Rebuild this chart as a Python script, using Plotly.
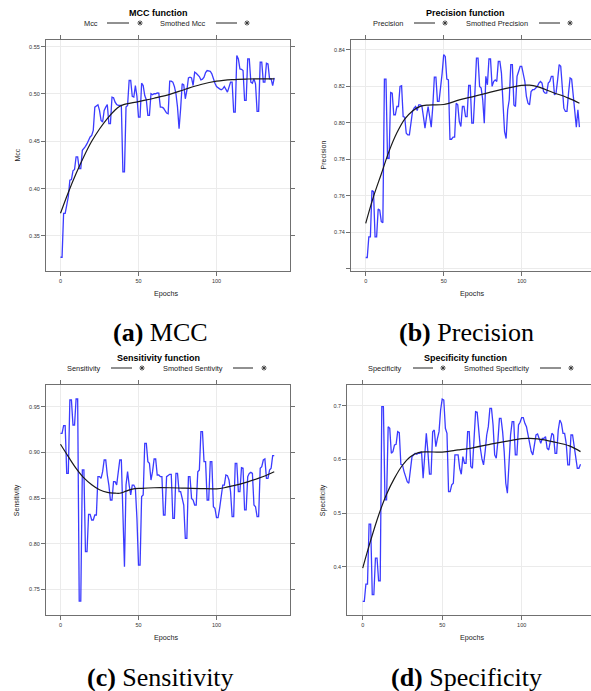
import plotly.graph_objects as go

W, H = 591, 691

epochs = list(range(138))

mcc = [0.3275, 0.3275, 0.3739, 0.3739, 0.3826, 0.3914, 0.4089, 0.4096, 0.4188, 0.4202,
       0.4335, 0.4335, 0.4212, 0.4212, 0.4405, 0.4423, 0.4447, 0.4475, 0.4518, 0.4546,
       0.4563, 0.4616, 0.4861, 0.4875, 0.4886, 0.4826, 0.4721, 0.4704, 0.4826, 0.4861,
       0.4889, 0.4686, 0.4686, 0.4967, 0.4960, 0.4914, 0.4889, 0.4879, 0.4879, 0.4879,
       0.4177, 0.4177, 0.4861, 0.4879, 0.5142, 0.5142, 0.4974, 0.4967, 0.5089, 0.4974,
       0.4756, 0.4756, 0.5114, 0.5089, 0.4984, 0.4939, 0.4774, 0.4774, 0.5002, 0.4991,
       0.5002, 0.5002, 0.5012, 0.5009, 0.4861, 0.4861, 0.4851, 0.4826, 0.4798, 0.4791,
       0.5135, 0.5135, 0.5125, 0.5079, 0.5002, 0.4861, 0.4633, 0.4844, 0.5107, 0.5096,
       0.4949, 0.5037, 0.5170, 0.5177, 0.5170, 0.5089, 0.5230, 0.5219, 0.5202, 0.5184,
       0.5149, 0.5156, 0.5177, 0.5226, 0.5247, 0.5247, 0.5240, 0.5212, 0.5149, 0.5114,
       0.5079, 0.5061, 0.5054, 0.5044, 0.5054, 0.5079, 0.5044, 0.5019, 0.5072, 0.5125,
       0.5125, 0.4809, 0.4809, 0.5405, 0.5370, 0.5265, 0.5261, 0.5247, 0.4932, 0.4932,
       0.5370, 0.5370, 0.5125, 0.5114, 0.5160, 0.5107, 0.4816, 0.4816, 0.5335, 0.5335,
       0.5125, 0.5125, 0.5325, 0.5318, 0.5160, 0.5160, 0.5089, 0.5170]

precision = [0.7263, 0.7263, 0.7376, 0.7376, 0.7629, 0.7623, 0.7376, 0.7376, 0.7528, 0.7522,
             0.7459, 0.7453, 0.8239, 0.8239, 0.7806, 0.7806, 0.8166, 0.8162, 0.8044, 0.8044,
             0.8089, 0.8089, 0.8199, 0.8203, 0.8034, 0.8031, 0.7943, 0.7934, 0.7934, 0.8016,
             0.8062, 0.8080, 0.8089, 0.8067, 0.8098, 0.8098, 0.8093, 0.8034, 0.7970, 0.8034,
             0.8089, 0.8034, 0.7976, 0.8089, 0.8250, 0.8250, 0.8117, 0.8117, 0.8190, 0.8272,
             0.8373, 0.8363, 0.8239, 0.8235, 0.7910, 0.7910, 0.7921, 0.7921, 0.8107, 0.8098,
             0.8007, 0.7980, 0.8089, 0.8089, 0.8034, 0.8034, 0.8204, 0.8204, 0.7998, 0.7998,
             0.8166, 0.8354, 0.8354, 0.8199, 0.8190, 0.8126, 0.7998, 0.8254, 0.8208, 0.8349,
             0.8349, 0.8199, 0.8226, 0.8235, 0.8226, 0.8336, 0.8336, 0.8272, 0.8107, 0.7952,
             0.7914, 0.8071, 0.8126, 0.8318, 0.8318, 0.8098, 0.8089, 0.8254, 0.8281, 0.8309,
             0.8309, 0.8272, 0.8226, 0.8144, 0.8107, 0.8098, 0.8171, 0.8181, 0.8181, 0.8190,
             0.8199, 0.8217, 0.8226, 0.8217, 0.8171, 0.8162, 0.8162, 0.8217, 0.8226, 0.8254,
             0.8254, 0.8153, 0.8162, 0.8235, 0.8318, 0.8309, 0.8199, 0.8080, 0.8062, 0.8062,
             0.8162, 0.8245, 0.8239, 0.8153, 0.8062, 0.7976, 0.8071, 0.7976]

sensitivity = [0.9208, 0.9208, 0.9292, 0.9292, 0.8770, 0.8770, 0.9573, 0.9573, 0.9299, 0.9299,
               0.9584, 0.9584, 0.7372, 0.7372, 0.8807, 0.8807, 0.7912, 0.7912, 0.8321, 0.8321,
               0.8259, 0.8259, 0.8314, 0.8314, 0.8734, 0.8734, 0.8715, 0.8788, 0.8916, 0.8916,
               0.8752, 0.8642, 0.8478, 0.8478, 0.8679, 0.8679, 0.8642, 0.8788, 0.8916, 0.8916,
               0.8277, 0.7748, 0.8642, 0.8788, 0.8642, 0.8533, 0.8642, 0.8642, 0.8606, 0.8277,
               0.7766, 0.7766, 0.8515, 0.8533, 0.9099, 0.9099, 0.8898, 0.8880, 0.8697, 0.8788,
               0.8927, 0.8927, 0.8752, 0.8752, 0.8734, 0.8734, 0.8314, 0.8314, 0.8734, 0.8752,
               0.8759, 0.8759, 0.8277, 0.8277, 0.8770, 0.8770, 0.8569, 0.8569, 0.8478, 0.8423,
               0.8058, 0.8058, 0.8734, 0.8734, 0.8496, 0.8478, 0.8423, 0.8423, 0.8788, 0.8807,
               0.9226, 0.9226, 0.8898, 0.8898, 0.8478, 0.8478, 0.8898, 0.8898, 0.8405, 0.8387,
               0.8285, 0.8285, 0.8387, 0.8496, 0.8642, 0.8642, 0.8752, 0.8745, 0.8697, 0.8569,
               0.8296, 0.8296, 0.8880, 0.8880, 0.8569, 0.8569, 0.8832, 0.8825, 0.8369, 0.8369,
               0.8734, 0.8770, 0.8781, 0.8770, 0.8423, 0.8405, 0.8296, 0.8296, 0.8825, 0.8843,
               0.8916, 0.8927, 0.8715, 0.8715, 0.8807, 0.8825, 0.8964, 0.8964]

specificity = [0.3355, 0.3355, 0.3677, 0.3677, 0.4793, 0.4793, 0.3479, 0.3479, 0.4161, 0.4161,
               0.3739, 0.3739, 0.6981, 0.6981, 0.5246, 0.5246, 0.6609, 0.6578, 0.6113, 0.6144,
               0.6268, 0.6281, 0.6516, 0.6498, 0.5909, 0.5896, 0.5772, 0.5679, 0.5586, 0.5555,
               0.5803, 0.6051, 0.6082, 0.6113, 0.6095, 0.6113, 0.6113, 0.6144, 0.5648, 0.6082,
               0.6485, 0.6144, 0.5723, 0.5723, 0.6516, 0.6547, 0.6237, 0.6392, 0.6516, 0.6919,
               0.7124, 0.7105, 0.6578, 0.6485, 0.5400, 0.5400, 0.5524, 0.5555, 0.6082, 0.6082,
               0.6082, 0.5834, 0.5723, 0.6051, 0.5927, 0.5927, 0.6516, 0.6516, 0.5865, 0.5834,
               0.6330, 0.6888, 0.6876, 0.6454, 0.6206, 0.6008, 0.5896, 0.6144, 0.6454, 0.6609,
               0.6950, 0.6950, 0.6640, 0.6082, 0.6020, 0.6330, 0.6764, 0.6764, 0.6516, 0.6144,
               0.5555, 0.5370, 0.6020, 0.6454, 0.6702, 0.6702, 0.6082, 0.6082, 0.6640, 0.6690,
               0.6777, 0.6777, 0.6671, 0.6609, 0.6454, 0.6268, 0.6144, 0.6082, 0.6299, 0.6454,
               0.6473, 0.6361, 0.6299, 0.6392, 0.6392, 0.6423, 0.6206, 0.6175, 0.6330, 0.6485,
               0.6454, 0.6113, 0.6113, 0.6547, 0.6733, 0.6671, 0.6485, 0.6485, 0.6299, 0.5896,
               0.5896, 0.6454, 0.6454, 0.6268, 0.6082, 0.5834, 0.5834, 0.5909]

smooth_mcc_x = [0, 5, 10, 15, 20, 25, 30, 35, 38, 40, 50, 60, 70, 80, 90, 100, 110, 120, 130, 137]
smooth_mcc = [0.374, 0.396, 0.416, 0.434, 0.450, 0.463, 0.474, 0.483, 0.487, 0.4885, 0.492,
              0.4955, 0.4995, 0.505, 0.510, 0.5135, 0.5152, 0.5158, 0.516, 0.516]

smooth_prec_x = [0, 5, 10, 15, 20, 25, 30, 35, 40, 50, 60, 70, 80, 90, 100, 105, 110, 120, 130, 137]
smooth_prec = [0.745, 0.7596, 0.772, 0.7845, 0.7945, 0.802, 0.8065, 0.809, 0.8097, 0.8100,
               0.8125, 0.8146, 0.8168, 0.8188, 0.8205, 0.8206, 0.8198, 0.8166, 0.8135, 0.8107]

smooth_sens_x = [0, 5, 10, 15, 20, 25, 30, 35, 38, 42, 46, 52, 60, 70, 80, 90, 100, 105, 110, 120, 130, 137]
smooth_sens = [0.9088, 0.8953, 0.8825, 0.872, 0.8645, 0.859, 0.8562, 0.8553, 0.8552, 0.8575,
               0.8598, 0.8606, 0.8612, 0.8612, 0.8608, 0.8603, 0.8601, 0.8612, 0.8632, 0.8677,
               0.8735, 0.8788]

smooth_spec_x = [0, 5, 10, 15, 20, 25, 30, 35, 40, 50, 60, 70, 80, 90, 100, 105, 110, 120, 130, 137]
smooth_spec = [0.3975, 0.449, 0.496, 0.535, 0.565, 0.589, 0.605, 0.6125, 0.614, 0.6135, 0.6175,
               0.622, 0.628, 0.6335, 0.6385, 0.639, 0.638, 0.6325, 0.625, 0.6144]

x_ticks = [0, 50, 100]

panels = [
    dict(name="Mcc", sname="Smothed Mcc", title="MCC function", ylab="Mcc",
         y=mcc, sx=smooth_mcc_x, sy=smooth_mcc, cap="(a)", capt="MCC",
         xd=[46, 290], yd=[40, 271], xr=[-9.29, 147.1], yr=[0.313, 0.557],
         yt=[0.35, 0.40, 0.45, 0.50, 0.55], ytt=["0.35", "0.40", "0.45", "0.50", "0.55"],
         right=True, cx=159, tcy=13, ly=23, ylx=17, xlaby=293, capy=332,
         leg=[(100, 107, 129, 140), (207, 216, 237, 247)]),
    dict(name="Precision", sname="Smothed Precision", title="Precision function", ylab="Precision",
         y=precision, sx=smooth_prec_x, sy=smooth_prec, cap="(b)", capt="Precision",
         xd=[351, 591], yd=[40, 271], xr=[-9.42, 144.4], yr=[0.7189, 0.8453],
         yt=[0.72, 0.74, 0.76, 0.78, 0.80, 0.82, 0.84], ytt=["", "0.74", "0.76", "0.78", "0.80", "0.82", "0.84"],
         right=False, cx=465, tcy=13, ly=23, ylx=323, xlaby=293, capy=332,
         leg=[(405, 414, 435, 445), (530, 539, 560, 570)]),
    dict(name="Sensitivity", sname="Smothed Sentivity", title="Sensitivity function", ylab="Sensitivity",
         y=sensitivity, sx=smooth_sens_x, sy=smooth_sens, cap="(c)", capt="Sensitivity",
         xd=[46, 290], yd=[385, 615.3], xr=[-9.29, 147.1], yr=[0.7216, 0.9737],
         yt=[0.75, 0.80, 0.85, 0.90, 0.95], ytt=["0.75", "0.80", "0.85", "0.90", "0.95"],
         right=True, cx=159, tcy=358, ly=368, ylx=17, xlaby=637, capy=677,
         leg=[(103, 111, 132, 142), (225, 233, 253, 264)]),
    dict(name="Specificity", sname="Smothed Specificity", title="Specificity function", ylab="Specificity",
         y=specificity, sx=smooth_spec_x, sy=smooth_spec, cap="(d)", capt="Specificity",
         xd=[347.3, 591], yd=[385, 615.3], xr=[-9.7, 143.6], yr=[0.3095, 0.7385],
         yt=[0.4, 0.5, 0.6, 0.7], ytt=["0.4", "0.5", "0.6", "0.7"],
         right=False, cx=465, tcy=358, ly=368, ylx=323, xlaby=637, capy=677,
         leg=[(404, 413, 433, 443), (531, 540, 561, 571)]),
]

def px(x):
    return x / W

def py(y):
    return 1 - y / H

SANS = "Liberation Sans, Arial, sans-serif"
fig = go.Figure()
layout = dict(width=W, height=H, margin=dict(l=0, r=0, t=0, b=0),
              paper_bgcolor="white", plot_bgcolor="white", showlegend=False)
annotations = []
shapes = []

def star(cx, cy, r=2.6):
    # lattice pch=8 style: "+" overlaid with "x"
    d = r * 0.72
    segs = [(-r, 0, r, 0), (0, -r, 0, r), (-d, -d, d, d), (-d, d, d, -d)]
    for x0, y0, x1, y1 in segs:
        shapes.append(dict(type="line", xref="paper", yref="paper",
                           x0=px(cx + x0), x1=px(cx + x1), y0=py(cy + y0), y1=py(cy + y1),
                           line=dict(color="#333", width=0.9)))

for i, p in enumerate(panels):
    k = "" if i == 0 else str(i + 1)
    xa, ya = "x" + k, "y" + k
    fig.add_trace(go.Scatter(x=epochs, y=p["y"], mode="lines", xaxis=xa, yaxis=ya,
                             line=dict(color="rgba(25,25,255,0.85)", width=1.3)))
    fig.add_trace(go.Scatter(x=p["sx"], y=p["sy"], mode="lines", xaxis=xa, yaxis=ya,
                             line=dict(color="#1a1a1a", width=1.2, shape="spline")))
    axcommon = dict(showline=True, linecolor="#707070", linewidth=1.2, ticks="outside",
                    ticklen=4, tickwidth=1, tickcolor="#707070", showgrid=True,
                    gridcolor="#ebebeb", gridwidth=1, zeroline=False,
                    tickfont=dict(family=SANS, size=5.5, color="#333"))
    layout["xaxis" + k] = dict(axcommon, domain=[px(p["xd"][0]), px(p["xd"][1])],
                               range=p["xr"], anchor=ya, mirror="allticks",
                               tickvals=x_ticks, ticktext=[str(v) for v in x_ticks])
    layout["yaxis" + k] = dict(axcommon, domain=[py(p["yd"][1]), py(p["yd"][0])],
                               range=p["yr"], anchor=xa,
                               mirror="allticks" if p["right"] else False,
                               tickvals=p["yt"], ticktext=p["ytt"])
    # title
    annotations.append(dict(x=px(p["cx"]), y=py(p["tcy"]), xref="paper", yref="paper",
                            text="<b>" + p["title"] + "</b>", showarrow=False,
                            font=dict(family=SANS, size=9, color="black"),
                            xanchor="center", yanchor="middle"))
    # legend key row
    for lbl, (tx, l0, l1, ax) in zip([p["name"], p["sname"]], p["leg"]):
        annotations.append(dict(x=px(tx), y=py(p["ly"]), xref="paper", yref="paper",
                                text=lbl, showarrow=False,
                                font=dict(family=SANS, size=7.4, color="#222"),
                                xanchor="right", yanchor="middle"))
        shapes.append(dict(type="line", xref="paper", yref="paper",
                           x0=px(l0), x1=px(l1), y0=py(p["ly"]), y1=py(p["ly"]),
                           line=dict(color="#222", width=1)))
        star(ax, p["ly"])
    # y label
    ymid = (p["yd"][0] + p["yd"][1]) / 2
    annotations.append(dict(x=px(p["ylx"]), y=py(ymid), xref="paper", yref="paper",
                            text=p["ylab"], showarrow=False, textangle=-90,
                            font=dict(family=SANS, size=7, color="#222"),
                            xanchor="center", yanchor="middle"))
    # x label
    annotations.append(dict(x=px(p["cx"] + 7), y=py(p["xlaby"]), xref="paper", yref="paper",
                            text="Epochs", showarrow=False,
                            font=dict(family=SANS, size=7.2, color="#222"),
                            xanchor="center", yanchor="middle"))
    # caption
    annotations.append(dict(x=px(p["cx"] + 1), y=py(p["capy"]), xref="paper", yref="paper",
                            text="<b>" + p["cap"] + "</b> " + p["capt"], showarrow=False,
                            font=dict(family="Liberation Serif, Times New Roman, serif",
                                      size=26, color="black"),
                            xanchor="center", yanchor="middle"))

layout["annotations"] = annotations
layout["shapes"] = shapes
fig.update_layout(**layout)
fig.write_html("out.html")
